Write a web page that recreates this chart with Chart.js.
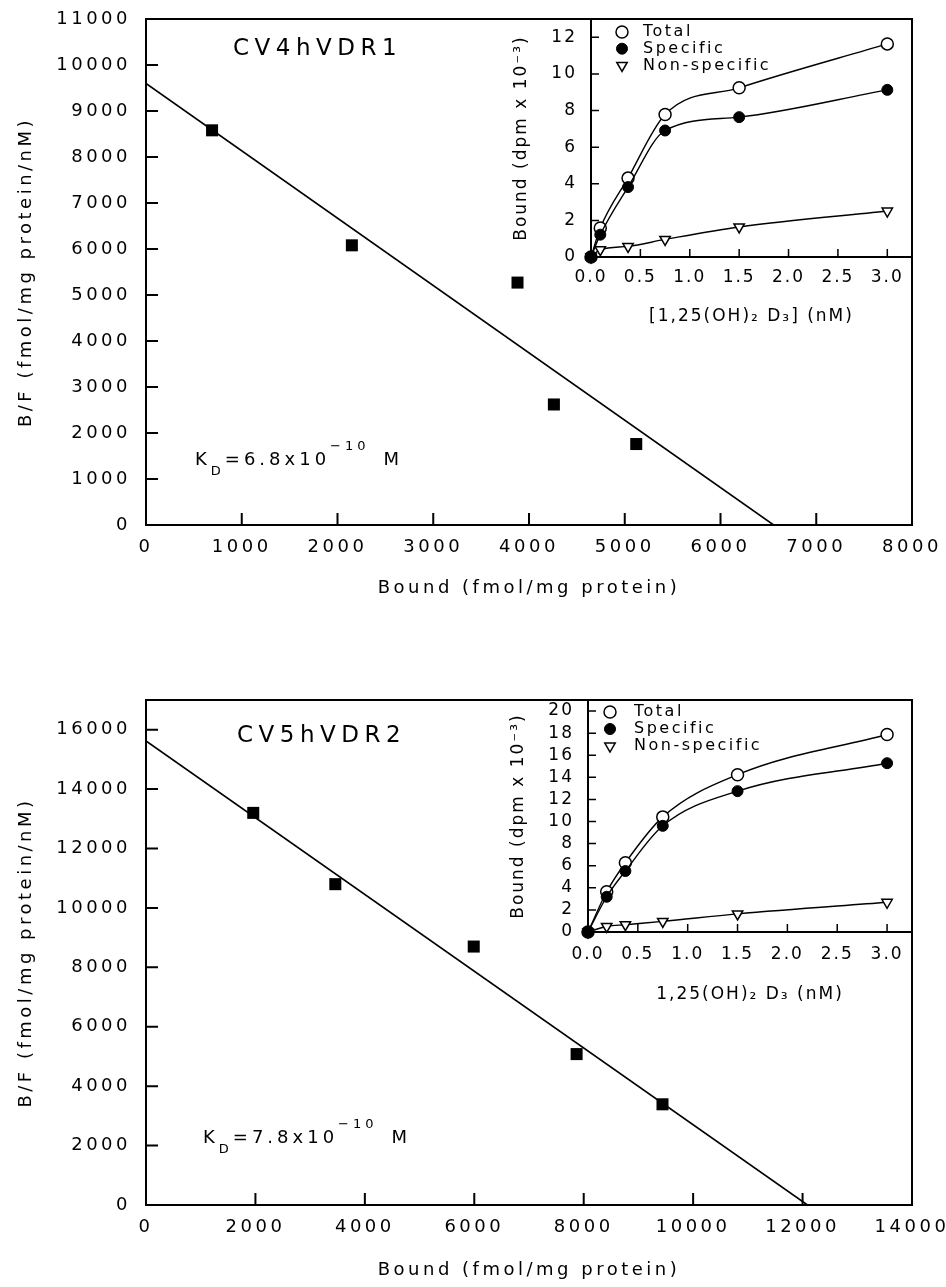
<!DOCTYPE html>
<html>
<head>
<meta charset="utf-8">
<script src="https://cdn.jsdelivr.net/npm/chart.js@4.4.1/dist/chart.umd.min.js"></script>
<style>
  body { margin: 0; background: #fff; }
  #page { position: relative; width: 946px; height: 1287px; }
  canvas { position: absolute; }
</style>
</head>
<body>
<div id="page">
  <canvas id="scatchard1" width="946" height="620" style="left:0;top:0"></canvas>
  <canvas id="scatchard2" width="946" height="607" style="left:0;top:680px"></canvas>
  <canvas id="inset1" width="476" height="340" style="left:470px;top:0"></canvas>
  <canvas id="inset2" width="476" height="360" style="left:470px;top:680px"></canvas>
</div>
<script>
// Scatchard plot, CV4hVDR1
var bound1 = [690, 2150, 3880, 4260, 5120];
var bf1 = [8580, 6080, 5270, 2620, 1760];
var fitX1 = [0, 6555];
var fitY1 = [9600, 0];
var boundTicks1 = [0, 1000, 2000, 3000, 4000, 5000, 6000, 7000, 8000];
var bfTicks1 = [0, 1000, 2000, 3000, 4000, 5000, 6000, 7000, 8000, 9000, 10000, 11000];

// Scatchard plot, CV5hVDR2
var bound2 = [1960, 3460, 5990, 7870, 9440];
var bf2 = [13200, 10800, 8700, 5080, 3390];
var fitX2 = [0, 12090];
var fitY2 = [15620, 0];
var boundTicks2 = [0, 2000, 4000, 6000, 8000, 10000, 12000, 14000];
var bfTicks2 = [0, 2000, 4000, 6000, 8000, 10000, 12000, 14000, 16000];

// saturation insets (Bound, dpm x 10^-3)
var seriesNames = ['Total', 'Specific', 'Non-specific'];
var doseTicks = [0, 0.5, 1.0, 1.5, 2.0, 2.5, 3.0];
var dose1 = [0, 0.094, 0.375, 0.75, 1.5, 3.0];
var total1 = [0, 1.58, 4.31, 7.78, 9.24, 11.64];
var specific1 = [0, 1.22, 3.82, 6.91, 7.64, 9.13];
var nonspec1 = [0, 0.4, 0.58, 0.96, 1.64, 2.51];
var countTicks1 = [0, 2, 4, 6, 8, 10, 12];
var dose2 = [0, 0.1875, 0.375, 0.75, 1.5, 3.0];
var total2 = [0, 3.64, 6.27, 10.42, 14.24, 17.88];
var specific2 = [0, 3.19, 5.52, 9.61, 12.75, 15.28];
var nonspec2 = [0, 0.5, 0.66, 0.96, 1.64, 2.69];
var countTicks2 = [0, 2, 4, 6, 8, 10, 12, 14, 16, 18, 20];

var FONT = "'DejaVu Sans', sans-serif";
Chart.defaults.font.family = FONT;
Chart.defaults.color = '#000';
Chart.defaults.animation = false;

function pts(xs, ys) {
    return xs.map(function (x, i) { return { x: x, y: ys[i] }; });
}

function fixedTicks(list) {
    return function (s) { s.ticks = list.map(function (v) { return { value: v }; }); };
}

// wide letter spacing like the original typeset figure
var spacing = {
    id: 'spacing',
    beforeDraw: function (chart, args, o) { chart.ctx.letterSpacing = o.px + 'px'; }
};

// box round the plot + inward tick marks
var frame = {
    id: 'frame',
    beforeDatasetsDraw: function (chart, args, o) {
        var ctx = chart.ctx, a = chart.chartArea, sx = chart.scales.x, sy = chart.scales.y;
        ctx.save();
        ctx.strokeStyle = '#000';
        ctx.lineWidth = o.tickWidth;
        ctx.beginPath();
        sx.ticks.forEach(function (t) {
            var px = sx.getPixelForValue(t.value);
            ctx.moveTo(px, a.bottom); ctx.lineTo(px, a.bottom - o.tick);
        });
        sy.ticks.forEach(function (t) {
            var py = sy.getPixelForValue(t.value);
            ctx.moveTo(a.left, py); ctx.lineTo(a.left + o.tick, py);
        });
        ctx.stroke();
        ctx.lineWidth = o.width;
        ctx.strokeRect(a.left, a.top, a.right - a.left, a.bottom - a.top);
        ctx.restore();
    }
};

// cell line name and K_D text
var notes = {
    id: 'notes',
    afterDraw: function (chart, args, o) {
        var ctx = chart.ctx, a = chart.chartArea;
        ctx.save();
        ctx.fillStyle = '#000';
        ctx.textAlign = 'left';
        ctx.textBaseline = 'alphabetic';
        ctx.letterSpacing = '5.5px';
        ctx.font = '23px ' + FONT;
        ctx.fillText(o.name, a.left + o.nameX, a.top + o.nameY);
        ctx.letterSpacing = '4px';
        var x = a.left + o.kdX, y = a.bottom - o.kdY;
        var parts = [['K', 0, 0], ['D', 1, 0], ['=' + o.kd + 'x10', 0, 0], ['\u221210', -1, 0], ['M', 0, 14]];
        parts.forEach(function (p) {
            x += p[2];
            ctx.font = (p[1] ? 13 : 18) + 'px ' + FONT;
            ctx.fillText(p[0], x, y + (p[1] > 0 ? 10 : p[1] < 0 ? -15 : 0));
            x += ctx.measureText(p[0]).width;
        });
        ctx.restore();
    }
};

// legend in the top-left corner of each inset
var insetKey = {
    id: 'insetKey',
    afterDatasetsDraw: function (chart, args, o) {
        var ctx = chart.ctx, a = chart.chartArea;
        ctx.save();
        ctx.letterSpacing = '2.5px';
        ctx.font = '16px ' + FONT;
        ctx.textBaseline = 'middle';
        chart.data.datasets.forEach(function (ds, i) {
            var y = a.top + o.top + i * o.step;
            ctx.fillStyle = ds.pointBackgroundColor;
            ctx.strokeStyle = '#000';
            ctx.lineWidth = ds.pointBorderWidth;
            Chart.helpers.drawPoint(ctx, {
                pointStyle: ds.pointStyle, radius: ds.pointRadius,
                rotation: ds.pointRotation || 0, borderWidth: ds.pointBorderWidth
            }, a.left + o.markX, y);
            ctx.fillStyle = '#000';
            ctx.fillText(ds.label, a.left + o.textX, y);
        });
        ctx.restore();
    }
};

function scatchard(id, bx, by, fx, fy, xMax, xTicks, yMax, yTicks, padTop, xH, titleB, note) {
    return new Chart(document.getElementById(id), {
        type: 'scatter',
        data: {
            datasets: [{
                data: pts(bx, by),
                pointStyle: 'rect',
                pointRadius: 8.5,
                pointBackgroundColor: '#000',
                pointBorderWidth: 0
            }, {
                data: pts(fx, fy),
                showLine: true,
                borderColor: '#000',
                borderWidth: 1.6,
                pointRadius: 0
            }]
        },
        options: {
            responsive: false,
            devicePixelRatio: 1,
            layout: { padding: { top: padTop, right: 34, left: 0, bottom: 0 } },
            plugins: {
                legend: { display: false },
                tooltip: { enabled: false },
                spacing: { px: 3.5 },
                frame: { tick: 12, tickWidth: 2, width: 2 },
                notes: note
            },
            scales: {
                x: {
                    type: 'linear', min: 0, max: xMax,
                    grid: { display: false, drawTicks: false },
                    border: { display: false },
                    ticks: { padding: 12, autoSkip: false, maxRotation: 0, font: { size: 18 },
                        callback: function (v) { return String(v); } },
                    afterBuildTicks: fixedTicks(xTicks),
                    title: { display: true, text: 'Bound (fmol/mg protein)', font: { size: 18 },
                        padding: { top: 0, bottom: titleB } },
                    afterFit: function (s) { s.height = xH; s.paddingLeft = 0; s.paddingRight = 0; }
                },
                y: {
                    type: 'linear', min: 0, max: yMax,
                    grid: { display: false, drawTicks: false },
                    border: { display: false },
                    ticks: { padding: 15, autoSkip: false, font: { size: 18 },
                        callback: function (v) { return String(v); } },
                    afterBuildTicks: fixedTicks(yTicks),
                    title: { display: true, text: 'B/F (fmol/mg protein/nM)', font: { size: 18 },
                        padding: { top: 16, bottom: 0 } },
                    afterFit: function (s) { s.width = 146; s.paddingTop = 0; s.paddingBottom = 0; }
                }
            }
        },
        plugins: [spacing, frame, notes]
    });
}

function inset(id, dose, tot, spec, non, yMax, yTicks, top, left, xH, xTitle, xPad, xTitleB, yTitleT, key) {
    return new Chart(document.getElementById(id), {
        type: 'scatter',
        data: {
            datasets: [{
                label: seriesNames[0],
                data: pts(dose, tot),
                showLine: true, cubicInterpolationMode: 'monotone', clip: false, order: 1,
                borderColor: '#000', borderWidth: 1.4,
                pointStyle: 'circle', pointRadius: 6,
                pointBackgroundColor: '#fff', pointBorderColor: '#000', pointBorderWidth: 1.5
            }, {
                label: seriesNames[1],
                data: pts(dose, spec),
                showLine: true, cubicInterpolationMode: 'monotone', clip: false, order: 0,
                borderColor: '#000', borderWidth: 1.4,
                pointStyle: 'circle', pointRadius: 5.5,
                pointBackgroundColor: '#000', pointBorderColor: '#000', pointBorderWidth: 1
            }, {
                label: seriesNames[2],
                data: pts(dose, non),
                showLine: true, cubicInterpolationMode: 'monotone', clip: false, order: 2,
                borderColor: '#000', borderWidth: 1.4,
                pointStyle: 'triangle', pointRotation: 180, pointRadius: 6,
                pointBackgroundColor: '#fff', pointBorderColor: '#000', pointBorderWidth: 1.5
            }]
        },
        options: {
            responsive: false,
            devicePixelRatio: 1,
            layout: { padding: { top: top, right: 34, left: 0, bottom: 0 } },
            plugins: {
                legend: { display: false },
                tooltip: { enabled: false },
                spacing: { px: 2 },
                frame: { tick: 8, tickWidth: 1.5, width: 2 },
                insetKey: key
            },
            scales: {
                x: {
                    type: 'linear', min: 0, max: 3.25,
                    grid: { display: false, drawTicks: false },
                    border: { display: false },
                    ticks: { padding: xPad, autoSkip: false, maxRotation: 0,
                        font: { size: 17 }, callback: function (v) { return v.toFixed(1); } },
                    afterBuildTicks: fixedTicks(doseTicks),
                    title: { display: true, text: xTitle, font: { size: 17 }, padding: { top: 0, bottom: xTitleB } },
                    afterFit: function (s) { s.height = xH; s.paddingLeft = 0; s.paddingRight = 0; }
                },
                y: {
                    type: 'linear', min: 0, max: yMax,
                    grid: { display: false, drawTicks: false },
                    border: { display: false },
                    ticks: { padding: 14, autoSkip: false, font: { size: 17 } },
                    afterBuildTicks: fixedTicks(yTicks),
                    title: { display: true, text: 'Bound (dpm x 10\u207B\u00B3)', font: { size: 17 },
                        padding: { top: yTitleT, bottom: 0 } },
                    afterFit: function (s) { s.width = left; s.paddingTop = 0; s.paddingBottom = 0; }
                }
            }
        },
        plugins: [spacing, frame, insetKey]
    });
}

var chart1 = scatchard('scatchard1', bound1, bf1, fitX1, fitY1, 8000, boundTicks1, 11000, bfTicks1, 19, 95, 21,
    { name: 'CV4hVDR1', nameX: 87, nameY: 36, kd: '6.8', kdX: 49, kdY: 60 });
var chart2 = scatchard('scatchard2', bound2, bf2, fitX2, fitY2, 14000, boundTicks2, 17000, bfTicks2, 20, 82, 6,
    { name: 'CV5hVDR2', nameX: 91, nameY: 42, kd: '7.8', kdX: 57, kdY: 62 });

var inset1 = inset('inset1', dose1, total1, specific1, nonspec1, 13, countTicks1, 19, 121, 83,
    '[1,25(OH)\u2082 D\u2083] (nM)', 10, 13, 41.5, { top: 13, step: 16.7, markX: 31, textX: 52 });
var inset2 = inset('inset2', dose2, total2, specific2, nonspec2, 21, countTicks2, 20, 118, 108,
    '1,25(OH)\u2082 D\u2083 (nM)', 12.5, 35, 38, { top: 12, step: 17, markX: 22, textX: 46 });
</script>
</body>
</html>
